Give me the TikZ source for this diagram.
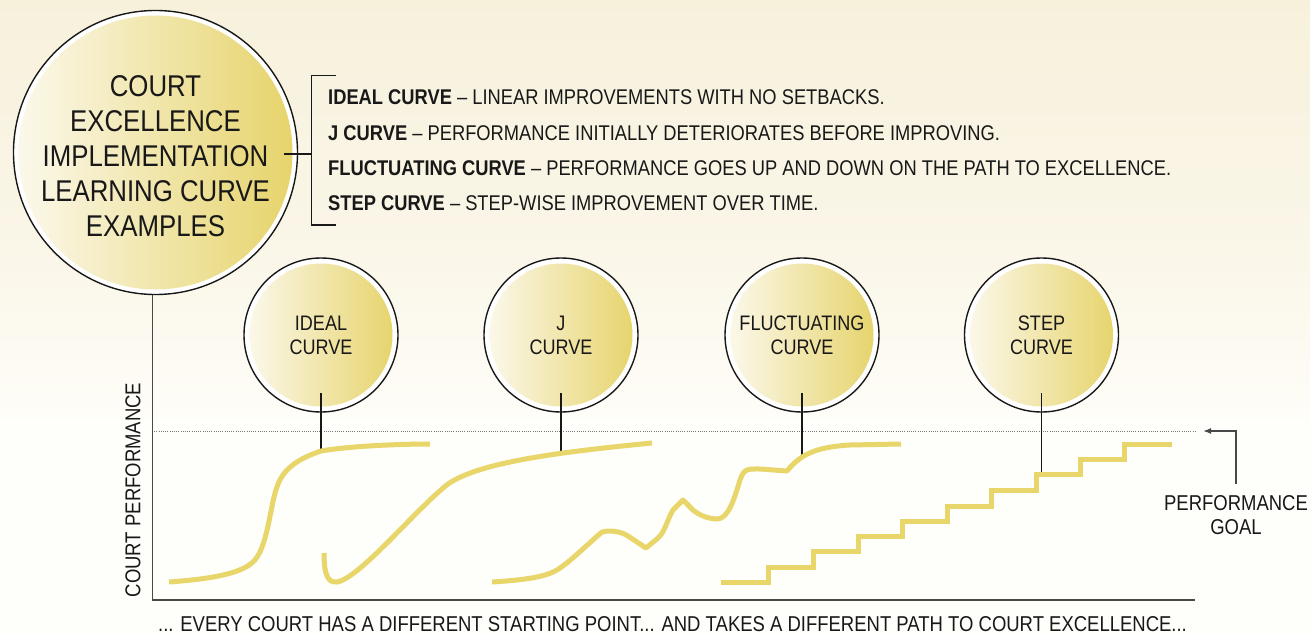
\documentclass[tikz,border=0pt]{standalone}
\usepackage{fontspec}
\setmainfont{Liberation Sans}[FakeStretch=0.86]
\usetikzlibrary{calc,arrows.meta}

\definecolor{creamtop}{RGB}{247,241,220}
\definecolor{creammid}{RGB}{250,246,232}
\definecolor{creamlow}{RGB}{254,253,248}
\definecolor{bubblelight}{RGB}{252,249,238}
\definecolor{bubblegold}{RGB}{230,211,105}
\definecolor{curvegold}{RGB}{233,214,107}
\definecolor{ink}{RGB}{24,24,24}
\definecolor{axisgray}{RGB}{72,72,72}
\definecolor{dotgray}{RGB}{120,120,120}

\tikzset{
  bubble/.style={circle, draw=ink, line width=1.4pt, fill=white, inner sep=0pt,
    minimum size=#1, text=ink, align=center},
  goldfill/.style={path picture={
      \shade[left color=bubblelight, right color=bubblegold]
        (path picture bounding box.center) circle (#1);}},
  smallbubble/.style={bubble=154pt, goldfill=71.5pt,
    font=\fontsize{21}{24}\selectfont},
  legendtext/.style={anchor=base west, inner sep=0pt, text=ink,
    font=\fontsize{21.3}{24}\selectfont},
  plaintext/.style={inner sep=0pt, text=ink, align=center,
    font=\fontsize{21.5}{24}\selectfont},
  pathcurve/.style={draw=curvegold, line width=5pt},
  leader/.style={draw=ink, line width=1.1pt},
}

\begin{document}
\begin{tikzpicture}[x=1pt,y=-1pt]
\useasboundingbox (0,0) rectangle (1310,634);

% backdrop: cream fading into white towards the chart
\shade[top color=creamtop, bottom color=creammid] (0,0) rectangle (1310,250);
\shade[top color=creammid, bottom color=creamlow] (0,250) rectangle (1310,420);
\fill[creamlow!60!white] (0,420) rectangle (1310,634);

% title bubble
\node[bubble=284pt, goldfill=137pt] (title) at (155.5,152.5) {};
\node[text=ink, inner sep=0pt, align=center, font=\fontsize{30}{35}\selectfont]
  (titletext) at (155.5,156) {COURT\\EXCELLENCE\\IMPLEMENTATION\\LEARNING CURVE\\EXAMPLES};

% legend bracket and entries
\coordinate (brk) at (311.7,154);
\draw[leader] (335.7,75.7) -- (311.7,75.7) -- (311.7,225) -- (335.7,225);
\draw[leader] (title.east |- brk) ++(-14,0) -- (brk);
\node[legendtext] (l1) at (328,105) {\textbf{IDEAL CURVE} – LINEAR IMPROVEMENTS WITH NO SETBACKS.};
\node[legendtext] (l2) at (328,140) {\textbf{J CURVE} – PERFORMANCE INITIALLY DETERIORATES BEFORE IMPROVING.};
\node[legendtext] (l3) at (328,175) {\textbf{FLUCTUATING CURVE} – PERFORMANCE GOES UP AND DOWN ON THE PATH TO EXCELLENCE.};
\node[legendtext] (l4) at (328,210) {\textbf{STEP CURVE} – STEP-WISE IMPROVEMENT OVER TIME.};

% performance goal level
\coordinate (goalstart) at (152,431);
\coordinate (goalend) at (1197,431);
\coordinate (goaltip) at (1203,431);
\draw[dotgray, line width=1pt, dash pattern=on 1pt off 1.2pt] (goalstart) -- (goalend);

% axes
\coordinate (origin) at (152.5,600);
\coordinate (xend) at (1195,600);
\draw[axisgray, line width=1.1pt] (title.south -| origin) -- (origin);
\draw[axisgray, line width=2pt] ([xshift=-0.5pt]origin) -- (xend);
\node[plaintext, rotate=90] (ylabel) at (133,490) {COURT PERFORMANCE};
\node[plaintext] (xlabel) at (672.5,624.5) {... EVERY COURT HAS A DIFFERENT STARTING POINT... AND TAKES A DIFFERENT PATH TO COURT EXCELLENCE...};

% goal annotation
\node[plaintext] (goalnote) at (1236,515) {PERFORMANCE\\GOAL};
\draw[axisgray, line width=1.5pt, -{Latex[length=8pt,width=6pt]}]
  ($(goalnote.north)+(0,-11)$) |- (goaltip);

% curve bubbles
\node[smallbubble] (ideal) at (321,335) {IDEAL\\CURVE};
\node[smallbubble] (jcurve) at (561,335) {J\\CURVE};
\node[smallbubble] (fluct) at (802,335) {FLUCTUATING\\CURVE};
\node[smallbubble] (stepc) at (1041.5,335) {STEP\\CURVE};

% where each bubble meets its curve
\coordinate (idealpt) at (321,451);
\coordinate (jpt) at (561,452);
\coordinate (fluctpt) at (802,456);
\coordinate (steppt) at (1041.5,474);
\draw[leader] ($(ideal.center)+(0,58)$) -- (idealpt);
\draw[leader] ($(jcurve.center)+(0,58)$) -- (jpt);
\draw[leader] ($(fluct.center)+(0,58)$) -- (fluctpt);
\draw[leader] ($(stepc.center)+(0,58)$) -- (steppt);

% ideal curve
\draw[pathcurve] (169,582) .. controls (210,579) and (240,574) .. (253,562)
  .. controls (268,548) and (270,505) .. (277,487)
  .. controls (283,468) and (300,458) .. (idealpt)
  .. controls (350,446) and (400,444) .. (430,444);

% J curve
\draw[pathcurve] (324,553) .. controls (324,575) and (328,583) .. (337,582)
  .. controls (360,578) and (415,510) .. (448,484)
  .. controls (480,462) and (560,452) .. (652,443);

% fluctuating curve
\draw[pathcurve, line join=round] (492,582) .. controls (525,580) and (545,577) .. (557,570)
  .. controls (570,562) and (590,542) .. (602,532)
  .. controls (610,530) and (620,531) .. (628,536) -- (646,548) -- (658,538)
  .. controls (665,532) and (667,520) .. (673,510) -- (683,500) -- (693,510)
  .. controls (700,516) and (710,519) .. (717,519)
  .. controls (728,519) and (734,500) .. (740,480)
  .. controls (744,468) and (748,469) .. (760,469) -- (787,471)
  .. controls (800,455) and (815,447) .. (850,445) -- (901,444);

% step curve
\draw[pathcurve, line join=miter] (721,582) -- (768,582) |- (813,567) |- (858,551) |- (902,536)
  |- (947,521) |- (991,506) |- (1036,490) |- (1080,474) |- (1124,459) |- (1172,444);
\end{tikzpicture}
\end{document}
